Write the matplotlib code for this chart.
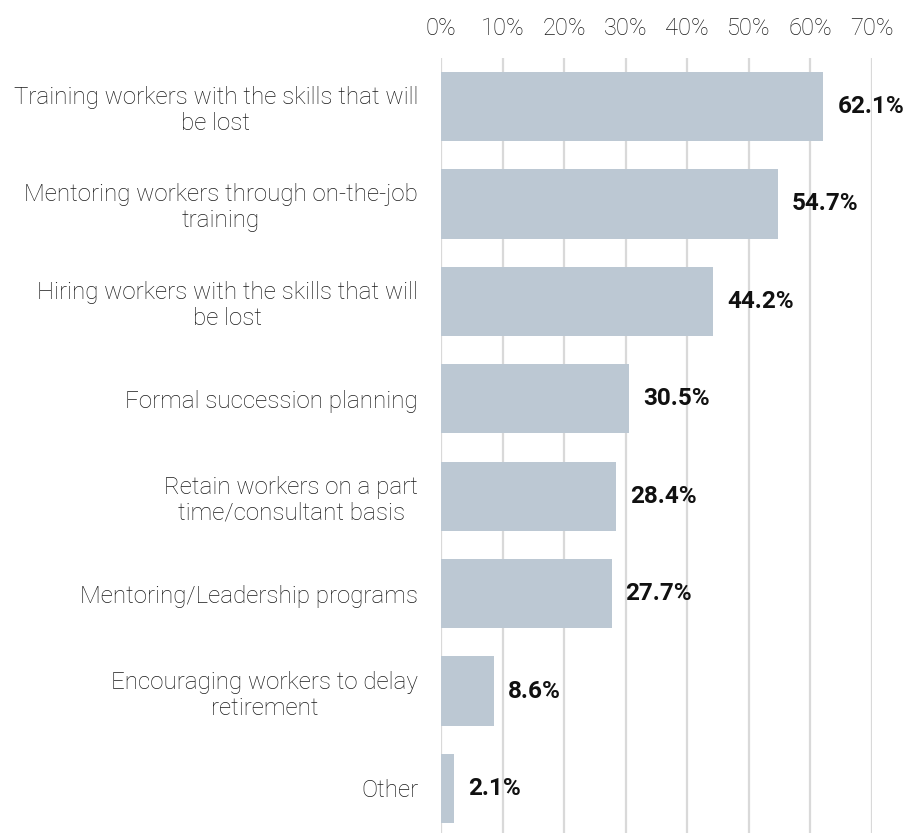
import matplotlib
matplotlib.use("Agg")
import matplotlib.pyplot as plt
from matplotlib.ticker import FuncFormatter

categories = [
    "Training workers with the skills that will\nbe lost",
    "Mentoring workers through on-the-job\ntraining",
    "Hiring workers with the skills that will\nbe lost",
    "Formal succession planning",
    "Retain workers on a part\ntime/consultant basis",
    "Mentoring/Leadership programs",
    "Encouraging workers to delay\nretirement",
    "Other",
]
values = [62.1, 54.7, 44.2, 30.5, 28.4, 27.7, 8.6, 2.1]
ticks = [0, 10, 20, 30, 40, 50, 60, 70]

plt.rcParams["font.family"] = ["Roboto", "DejaVu Sans"]

W, H = 906, 833
fig = plt.figure(figsize=(W / 100, H / 100), dpi=100)
ax = fig.add_axes([441 / W, -4.2 / H, (872 - 441) / W, (837.2 - 57.8) / H])

y = list(range(len(categories)))
ax.barh(y, values, height=0.71, color="#bcc8d3", zorder=2)

ax.set_xlim(0, 70)
ax.set_ylim(len(categories) - 0.5, -0.5)

ax.set_xticks(ticks)
ax.xaxis.set_major_formatter(FuncFormatter(lambda v, p: f"{v:.0f}%"))
ax.xaxis.tick_top()
ax.tick_params(axis="x", length=0, pad=13, labelsize=17, labelcolor="#1a1a1a")
for lbl in ax.get_xticklabels():
    lbl.set_fontweight("light")
ax.grid(axis="x", color="#d9d9d9", linewidth=1.6, zorder=3)

ax.set_yticks(y)
ax.set_yticklabels(categories, fontsize=17.4, color="#1a1a1a", linespacing=1.17,
                   ha="right", multialignment="center", fontweight="light")
ax.tick_params(axis="y", length=0, pad=16.5)

for s in ax.spines.values():
    s.set_visible(False)

for yi, v in zip(y, values):
    ax.annotate(f"{v}%", xy=(v, yi), xytext=(14, 0), textcoords="offset pixels",
                ha="left", va="center", fontsize=17.5, fontweight="bold",
                color="#111111", zorder=2.5)

fig.savefig("out.png", dpi=100)
